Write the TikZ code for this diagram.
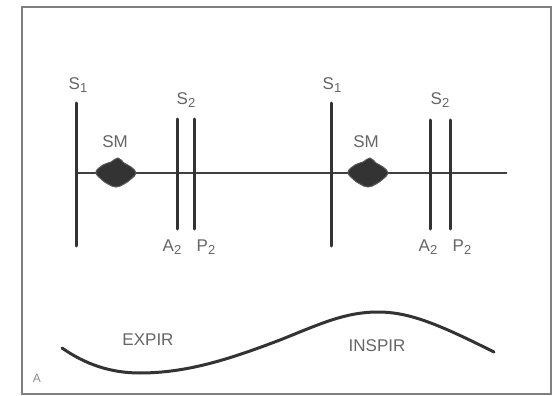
\documentclass[tikz,border=0pt]{standalone}
\usepackage{fontspec}
\setmainfont{Liberation Sans}
\newcommand{\lsub}[1]{\raisebox{-0.28ex}{\fontsize{13}{14}\selectfont #1}}
\begin{document}
\begin{tikzpicture}[x=1pt,y=-1pt,
  lbl/.style={text=black!60, font=\fontsize{17}{19}\selectfont, inner sep=0pt},
  bar/.style={draw=black!80, line width=3pt, line cap=round},
  axis/.style={draw=black!75, line width=1.4pt},
  blob/.style={fill=black!80, draw=black!65, line width=1pt},
  wave/.style={draw=black!80, line width=3pt, line cap=round},
  frame/.style={draw=black!50, line width=1.5pt}]
\path[use as bounding box] (0,0) rectangle (558,396);
\fill[white] (0,0) rectangle (558,396);
\draw[frame] (22,7) rectangle (551,394);

\coordinate (L0) at (76,173);
\coordinate (L1) at (507,173);
\draw[axis] (L0) -- (L1);

% first cycle
\coordinate (s1at) at (76,103);  \coordinate (s1ab) at (76,246);
\coordinate (a2at) at (177,119); \coordinate (a2ab) at (177,229);
\coordinate (p2at) at (194,119); \coordinate (p2ab) at (194,229);
\draw[bar] (s1at) -- (s1ab);
\draw[bar] (a2at) -- (a2ab);
\draw[bar] (p2at) -- (p2ab);
% second cycle
\coordinate (s1bt) at (331,103); \coordinate (s1bb) at (331,246);
\coordinate (a2bt) at (430,120); \coordinate (a2bb) at (430,229);
\coordinate (p2bt) at (450,120); \coordinate (p2bb) at (450,229);
\draw[bar] (s1bt) -- (s1bb);
\draw[bar] (a2bt) -- (a2bb);
\draw[bar] (p2bt) -- (p2bb);

% murmur blobs
\foreach \cx in {116,368}{
  \fill[blob] plot[smooth cycle, tension=0.7] coordinates {
    (\cx+20,173) (\cx+15,167) (\cx+8,163) (\cx+2,158) (\cx-5,162)
    (\cx-13,165) (\cx-20,172) (\cx-15,179) (\cx-8,184) (\cx,187)
    (\cx+8,184) (\cx+15,179)};
}

% labels
\node[lbl] (tS1a) at (78,85) {S\lsub{1}};
\node[lbl] (tS2a) at (186,100) {S\lsub{2}};
\node[lbl] (tSMa) at (115,142) {SM};
\node[lbl] (tA2a) at (172,247) {A\lsub{2}};
\node[lbl] (tP2a) at (206,247) {P\lsub{2}};
\node[lbl] (tS1b) at (332,85) {S\lsub{1}};
\node[lbl] (tS2b) at (440,100) {S\lsub{2}};
\node[lbl] (tSMb) at (366,142) {SM};
\node[lbl] (tA2b) at (428,247) {A\lsub{2}};
\node[lbl] (tP2b) at (462,247) {P\lsub{2}};

% respiration curve
\coordinate (w0) at (62,348);
\coordinate (w1) at (140,373);
\coordinate (w2) at (280,340);
\coordinate (w3) at (378,312);
\coordinate (w4) at (494,352);
\draw[wave] (w0) .. controls (85,364) and (110,373) .. (w1)
  .. controls (190,373) and (235,357) .. (w2)
  .. controls (320,324) and (345,312) .. (w3)
  .. controls (410,312) and (440,325) .. (w4);
\node[lbl] (texp) at (148,340) {EXPIR};
\node[lbl] (tins) at (377,346) {INSPIR};
\node[lbl, font=\fontsize{12}{14}\selectfont, text=black!45] (tA) at (37,378) {A};
\end{tikzpicture}
\end{document}
